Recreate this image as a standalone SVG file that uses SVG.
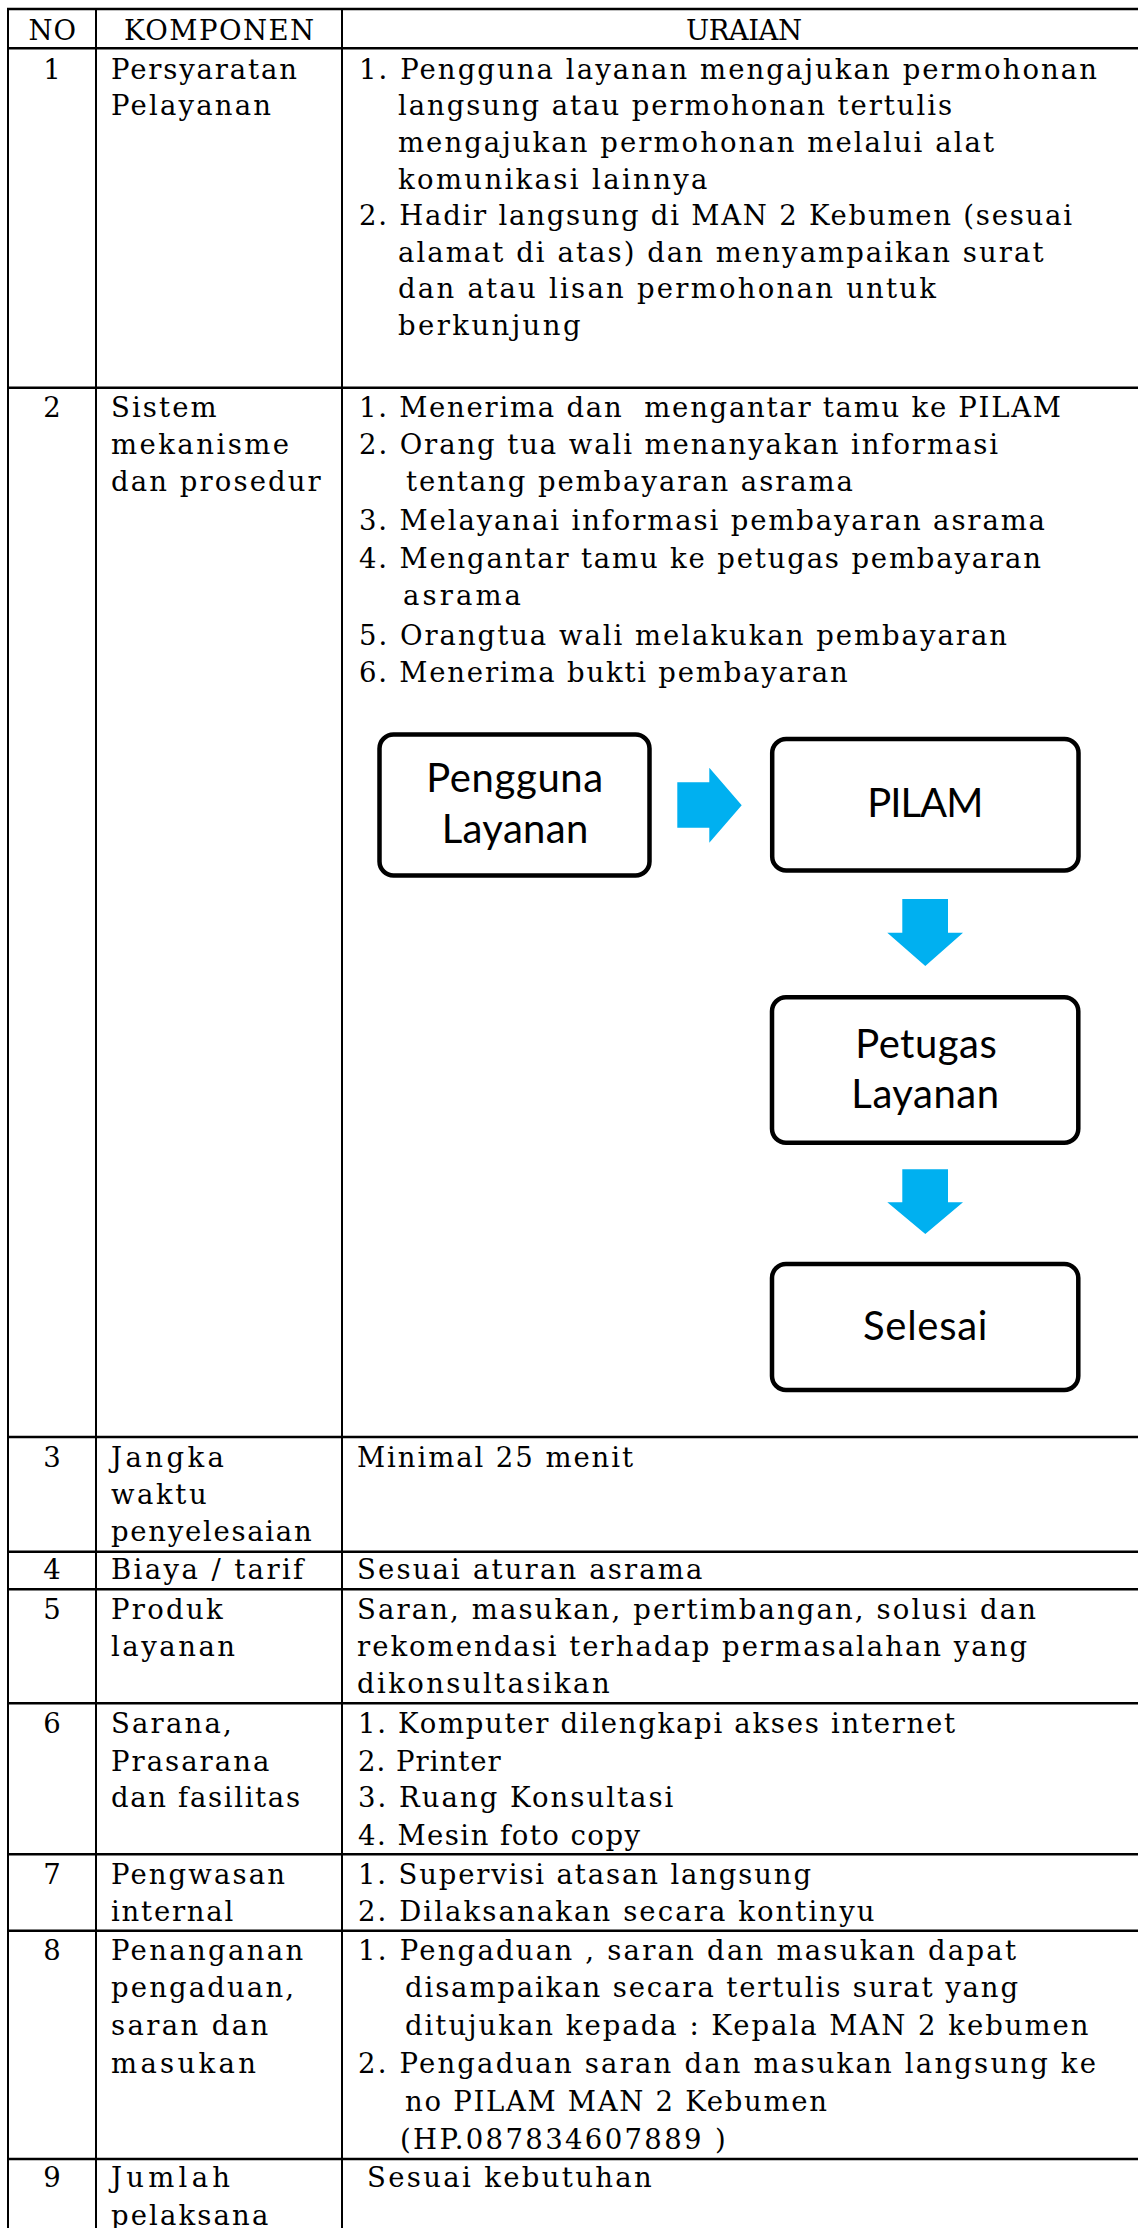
<svg xmlns="http://www.w3.org/2000/svg" width="1138" height="2228" viewBox="0 0 1138 2228">
  <style>
    .grid { stroke: #000; fill: none; }
    .h { stroke-width: 2.5; }
    .v { stroke-width: 2; }
    .t { font-family: "DejaVu Serif", "Liberation Serif", serif; font-size: 27.5px; fill: #000; }
    .c { text-anchor: middle; }
    .box { fill: #fff; stroke: #000; stroke-width: 4.5; }
    .bt { font-family: Lato, "Open Sans", "Liberation Sans", sans-serif; font-size: 40px; fill: #000; text-anchor: middle; }
    .arrow { fill: #00B0F0; stroke: none; }
  </style>
  <rect width="1138" height="2228" fill="#fff"/>

  <!-- table rules -->
  <g id="table-grid" class="grid">
    <line class="h" x1="7" y1="9" x2="1138" y2="9"/>
    <line class="h" x1="7" y1="48.3" x2="1138" y2="48.3"/>
    <line class="h" x1="7" y1="387.7" x2="1138" y2="387.7"/>
    <line class="h" x1="7" y1="1437" x2="1138" y2="1437"/>
    <line class="h" x1="7" y1="1551.7" x2="1138" y2="1551.7"/>
    <line class="h" x1="7" y1="1589.3" x2="1138" y2="1589.3"/>
    <line class="h" x1="7" y1="1703.3" x2="1138" y2="1703.3"/>
    <line class="h" x1="7" y1="1854.3" x2="1138" y2="1854.3"/>
    <line class="h" x1="7" y1="1930.7" x2="1138" y2="1930.7"/>
    <line class="h" x1="7" y1="2159" x2="1138" y2="2159"/>
    <line class="v" x1="8" y1="8" x2="8" y2="2228"/>
    <line class="v" x1="96" y1="8" x2="96" y2="2228"/>
    <line class="v" x1="342" y1="8" x2="342" y2="2228"/>
  </g>

  <!-- header -->
  <g id="header">
    <text class="t" x="28.5" y="39.5" textLength="47.5">NO</text>
    <text class="t" x="124" y="39.5" textLength="190">KOMPONEN</text>
    <text class="t" x="686" y="39.5" textLength="116">URAIAN</text>
  </g>

  <!-- row 1 -->
  <g id="row-1">
    <text class="t c" x="52" y="78.7">1</text>
    <text class="t" x="111" y="78.7" textLength="186">Persyaratan</text>
    <text class="t" x="111" y="115.3" textLength="160">Pelayanan</text>
    <text class="t" x="359" y="78.7" textLength="738">1. Pengguna layanan mengajukan permohonan</text>
    <text class="t" x="398" y="115.3" textLength="554">langsung atau permohonan tertulis</text>
    <text class="t" x="398" y="151.9" textLength="596">mengajukan permohonan melalui alat</text>
    <text class="t" x="398" y="188.5" textLength="309.5">komunikasi lainnya</text>
    <text class="t" x="359" y="225.1" textLength="713">2. Hadir langsung di MAN 2 Kebumen (sesuai</text>
    <text class="t" x="398" y="261.7" textLength="645.5">alamat di atas) dan menyampaikan surat</text>
    <text class="t" x="398" y="298.3" textLength="538">dan atau lisan permohonan untuk</text>
    <text class="t" x="398" y="334.9" textLength="182.5">berkunjung</text>
  </g>

  <!-- row 2 -->
  <g id="row-2">
    <text class="t c" x="52" y="417.3">2</text>
    <text class="t" x="111" y="417.3" textLength="105.7">Sistem</text>
    <text class="t" x="111" y="453.8" textLength="178">mekanisme</text>
    <text class="t" x="111" y="490.5" textLength="209.7">dan prosedur</text>
    <text class="t" x="359" y="417.3" textLength="702" xml:space="preserve">1. Menerima dan  mengantar tamu ke PILAM</text>
    <text class="t" x="359" y="453.8" textLength="639">2. Orang tua wali menanyakan informasi</text>
    <text class="t" x="406" y="490.5" textLength="447">tentang pembayaran asrama</text>
    <text class="t" x="359" y="530" textLength="686">3. Melayanai informasi pembayaran asrama</text>
    <text class="t" x="359" y="568" textLength="682">4. Mengantar tamu ke petugas pembayaran</text>
    <text class="t" x="403" y="605" textLength="118">asrama</text>
    <text class="t" x="359" y="644.5" textLength="648">5. Orangtua wali melakukan pembayaran</text>
    <text class="t" x="359" y="681.5" textLength="488.6">6. Menerima bukti pembayaran</text>
  </g>

  <!-- flow chart inside row 2 -->
  <g id="connectors">
    <polygon class="arrow" points="677.3,782.3 709.3,782.3 709.3,767.7 741.7,805.2 709.3,842.7 709.3,827.7 677.3,827.7"/>
    <polygon class="arrow" points="902.3,899 948,899 948,932.7 963,932.7 925.3,966 887.3,932.7 902.3,932.7"/>
    <polygon class="arrow" points="902.3,1169.3 948,1169.3 948,1202.3 963,1202.3 925.3,1234 887.3,1202.3 902.3,1202.3"/>
  </g>

  <g id="node-pengguna-layanan">
    <rect class="box" x="379.5" y="734.5" width="270" height="141" rx="14"/>
    <text class="bt" x="514.7" y="792.3" textLength="177">Pengguna</text>
    <text class="bt" x="515" y="842.7" textLength="146.6">Layanan</text>
  </g>
  <g id="node-pilam">
    <rect class="box" x="772.2" y="739" width="306.3" height="131.5" rx="14"/>
    <text class="bt" x="925.3" y="816.7" textLength="116">PILAM</text>
  </g>
  <g id="node-petugas-layanan">
    <rect class="box" x="772" y="997.3" width="306.3" height="145.5" rx="14"/>
    <text class="bt" x="926" y="1058.3" textLength="141.7">Petugas</text>
    <text class="bt" x="925.2" y="1108.3" textLength="147.7">Layanan</text>
  </g>
  <g id="node-selesai">
    <rect class="box" x="772" y="1264" width="306.3" height="126" rx="14"/>
    <text class="bt" x="925.2" y="1340" textLength="124.3">Selesai</text>
  </g>

  <!-- row 3 -->
  <g id="row-3">
    <text class="t c" x="52" y="1467.3">3</text>
    <text class="t" x="111" y="1467.3" textLength="113">Jangka</text>
    <text class="t" x="111" y="1504" textLength="95.7">waktu</text>
    <text class="t" x="111" y="1540.7" textLength="200.7">penyelesaian</text>
    <text class="t" x="357" y="1467.3" textLength="276">Minimal 25 menit</text>
  </g>

  <!-- row 4 -->
  <g id="row-4">
    <text class="t c" x="52" y="1579.3">4</text>
    <text class="t" x="111" y="1579.3" textLength="192.3">Biaya / tarif</text>
    <text class="t" x="357" y="1579.3" textLength="345.5">Sesuai aturan asrama</text>
  </g>

  <!-- row 5 -->
  <g id="row-5">
    <text class="t c" x="52" y="1619.3">5</text>
    <text class="t" x="111" y="1619.3" textLength="111.7">Produk</text>
    <text class="t" x="111" y="1656" textLength="124">layanan</text>
    <text class="t" x="357" y="1619.3" textLength="679">Saran, masukan, pertimbangan, solusi dan</text>
    <text class="t" x="357" y="1656" textLength="670">rekomendasi terhadap permasalahan yang</text>
    <text class="t" x="357" y="1693.3" textLength="252.6">dikonsultasikan</text>
  </g>

  <!-- row 6 -->
  <g id="row-6">
    <text class="t c" x="52" y="1733.3">6</text>
    <text class="t" x="111" y="1733.3" textLength="120.7">Sarana,</text>
    <text class="t" x="111" y="1770.7" textLength="158.3">Prasarana</text>
    <text class="t" x="111" y="1807.3" textLength="189">dan fasilitas</text>
    <text class="t" x="358" y="1733.3" textLength="597">1. Komputer dilengkapi akses internet</text>
    <text class="t" x="358" y="1770.7" textLength="142.7">2. Printer</text>
    <text class="t" x="358" y="1807.3" textLength="315.4">3. Ruang Konsultasi</text>
    <text class="t" x="358" y="1845" textLength="282">4. Mesin foto copy</text>
  </g>

  <!-- row 7 -->
  <g id="row-7">
    <text class="t c" x="52" y="1884">7</text>
    <text class="t" x="111" y="1884" textLength="174">Pengwasan</text>
    <text class="t" x="111" y="1921.3" textLength="122.3">internal</text>
    <text class="t" x="358" y="1884" textLength="453">1. Supervisi atasan langsung</text>
    <text class="t" x="358" y="1921.3" textLength="516.5">2. Dilaksanakan secara kontinyu</text>
  </g>

  <!-- row 8 -->
  <g id="row-8">
    <text class="t c" x="52" y="1959.7">8</text>
    <text class="t" x="111" y="1959.7" textLength="192.3">Penanganan</text>
    <text class="t" x="111" y="1997.3" textLength="183">pengaduan,</text>
    <text class="t" x="111" y="2035.3" textLength="157.3">saran dan</text>
    <text class="t" x="111" y="2073" textLength="145">masukan</text>
    <text class="t" x="358" y="1959.7" textLength="658">1. Pengaduan , saran dan masukan dapat</text>
    <text class="t" x="405" y="1997.3" textLength="613">disampaikan secara tertulis surat yang</text>
    <text class="t" x="405" y="2035.3" textLength="683.5">ditujukan kepada : Kepala MAN 2 kebumen</text>
    <text class="t" x="358" y="2073" textLength="738">2. Pengaduan saran dan masukan langsung ke</text>
    <text class="t" x="405" y="2110.7" textLength="422">no PILAM MAN 2 Kebumen</text>
    <text class="t" x="400" y="2148.7" textLength="325.7">(HP.087834607889 )</text>
  </g>

  <!-- row 9 -->
  <g id="row-9">
    <text class="t c" x="52" y="2187">9</text>
    <text class="t" x="111" y="2187" textLength="119">Jumlah</text>
    <text class="t" x="111" y="2224.7" textLength="157.3">pelaksana</text>
    <text class="t" x="367" y="2187" textLength="284.7">Sesuai kebutuhan</text>
  </g>
</svg>
